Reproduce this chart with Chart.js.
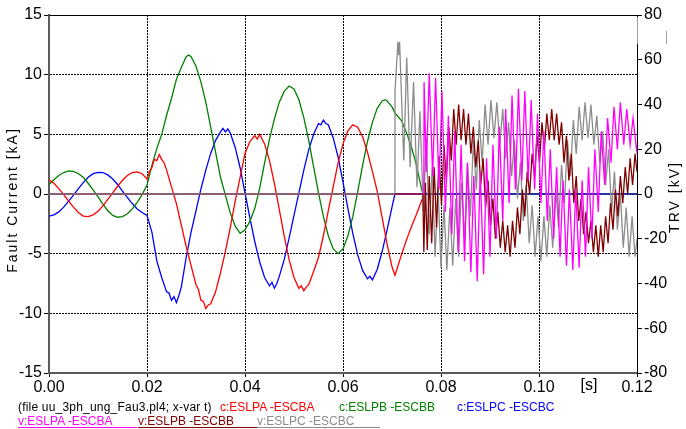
<!DOCTYPE html>
<html><head><meta charset="utf-8">
<script src="https://cdn.jsdelivr.net/npm/chart.js@4/dist/chart.umd.min.js"></script>
<style>
html,body{margin:0;padding:0;background:#fff;}
#wrap{position:relative;width:686px;height:429px;overflow:hidden;}
canvas{position:absolute;left:0;top:0;}
.lg{position:absolute;font:12px "Liberation Sans",Arial,sans-serif;white-space:pre;line-height:14px;height:13px;}
</style></head><body>
<div id="wrap"><canvas id="c" width="686" height="429"></canvas>
<div class="lg" style="left:18px;top:400px;color:#000;letter-spacing:0.2px">(file uu_3ph_ung_Fau3.pl4; x-var t)</div>
<div class="lg" style="left:220px;top:400px;color:#ff0000">c:ESLPA -ESCBA</div>
<div class="lg" style="left:339px;top:400px;color:#008000">c:ESLPB -ESCBB</div>
<div class="lg" style="left:457px;top:400px;color:#0000ff">c:ESLPC -ESCBC</div>
<div class="lg" style="left:18px;top:414px;width:119px;color:#ff00ff;border-bottom:1px solid #ff00ff">v:ESLPA -ESCBA</div>
<div class="lg" style="left:138px;top:414px;width:119px;color:#800000;border-bottom:1px solid #800000">v:ESLPB -ESCBB</div>
<div class="lg" style="left:257px;top:414px;width:123px;color:#8c8c8c;border-bottom:1px solid #8c8c8c">v:ESLPC -ESCBC</div>
</div>
<script>
// ---- data (time in s, current in kA, voltage in kV) ----
const xTickLabels = ["0.00","0.02","0.04","0.06","0.08","0.10","0.12"];

const tCA = [0,0.001,0.002,0.003,0.004,0.005,0.006,0.007,0.008,0.009,0.010,0.011,0.012,0.013,0.014,0.015,0.016,0.017,0.018,0.019,0.020,0.0205,0.021,0.0215,0.022,0.0225,0.023,0.0235,0.024,0.025,0.026,0.027,0.028,0.029,0.030,0.0305,0.031,0.0315,0.032,0.0325,0.033,0.034,0.035,0.036,0.037,0.038,0.039,0.040,0.041,0.042,0.0425,0.043,0.044,0.045,0.046,0.047,0.048,0.049,0.050,0.051,0.0515,0.052,0.0525,0.053,0.054,0.055,0.056,0.057,0.058,0.059,0.060,0.061,0.062,0.063,0.064,0.065,0.066,0.067,0.068,0.069,0.070,0.0706,0.071,0.072,0.073,0.074,0.075,0.076,0.0766,0.12];
const iCA = [1.2,0.9,0.45,-0.05,-0.6,-1.1,-1.55,-1.85,-1.9,-1.75,-1.45,-1.0,-0.45,0.1,0.65,1.15,1.55,1.8,1.85,1.7,1.25,1.9,2.2,2.9,2.8,3.3,2.9,2.6,2.0,0.6,-0.8,-2.6,-4.4,-6.0,-7.6,-8.0,-8.9,-9.0,-9.6,-9.3,-9.2,-8.2,-6.6,-4.8,-2.8,-0.6,1.4,3.4,4.4,4.9,4.6,5.0,4.2,2.8,0.9,-1.3,-3.5,-5.5,-7.0,-7.9,-7.7,-8.1,-7.8,-7.6,-6.5,-5.3,-3.5,-1.4,0.6,2.6,4.2,5.3,5.8,5.6,4.8,3.5,1.9,0.2,-2.0,-4.2,-6.1,-6.8,-6.3,-5.0,-3.8,-2.7,-1.7,-0.6,0,0];

const tCB = [0,0.001,0.002,0.003,0.004,0.005,0.006,0.007,0.008,0.009,0.010,0.011,0.012,0.013,0.014,0.015,0.016,0.017,0.018,0.019,0.020,0.021,0.022,0.023,0.024,0.025,0.026,0.027,0.028,0.0285,0.029,0.030,0.031,0.032,0.033,0.034,0.035,0.036,0.037,0.038,0.039,0.040,0.041,0.042,0.043,0.044,0.045,0.046,0.047,0.048,0.049,0.050,0.051,0.052,0.053,0.054,0.055,0.056,0.057,0.058,0.059,0.060,0.061,0.062,0.063,0.064,0.065,0.066,0.067,0.068,0.0686,0.069,0.070,0.0706,0.071,0.072,0.073,0.074,0.075,0.076,0.0763,0.12];
const iCB = [0.8,1.2,1.55,1.8,1.93,1.9,1.7,1.4,0.9,0.35,-0.25,-0.85,-1.4,-1.8,-1.95,-1.9,-1.65,-1.25,-0.7,-0.05,0.75,2.4,3.8,5.0,6.6,8.0,9.6,10.6,11.5,11.65,11.5,10.7,9.4,7.7,5.6,3.5,1.4,-0.1,-1.6,-2.7,-3.3,-3.0,-2.3,-1.2,0.5,2.6,4.6,6.3,7.7,8.6,9.05,8.8,7.9,6.4,4.5,2.3,0.1,-1.9,-3.5,-4.6,-5.0,-4.6,-3.5,-1.9,0.2,2.4,4.4,6.0,7.2,7.8,7.9,7.8,7.3,6.8,6.6,6.1,5.1,3.9,2.4,0.5,0,0];

const tCC = [0,0.001,0.002,0.003,0.004,0.005,0.006,0.007,0.008,0.009,0.010,0.011,0.012,0.013,0.014,0.015,0.016,0.017,0.018,0.019,0.020,0.021,0.022,0.023,0.024,0.0245,0.025,0.0255,0.026,0.0265,0.027,0.028,0.029,0.030,0.031,0.032,0.033,0.034,0.035,0.0355,0.036,0.0365,0.037,0.038,0.039,0.040,0.041,0.042,0.043,0.044,0.045,0.0455,0.046,0.0465,0.047,0.048,0.049,0.050,0.051,0.052,0.053,0.054,0.055,0.0555,0.056,0.0565,0.057,0.058,0.059,0.060,0.061,0.062,0.063,0.064,0.065,0.0655,0.066,0.067,0.068,0.069,0.070,0.0706,0.12];
const iCC = [-1.85,-1.75,-1.5,-1.1,-0.6,-0.1,0.45,0.95,1.4,1.7,1.82,1.8,1.6,1.25,0.8,0.25,-0.3,-0.8,-1.25,-1.55,-1.8,-3.2,-5.6,-7.0,-8.2,-8.3,-8.9,-8.6,-9.1,-8.5,-7.8,-5.3,-3.2,-1.4,0.4,2.0,3.4,4.5,5.2,5.5,5.2,5.45,5.1,3.9,2.2,0.1,-2.0,-4.0,-5.7,-7.0,-7.7,-7.4,-7.9,-7.5,-6.9,-5.5,-3.7,-1.8,0.1,2.0,3.7,5.0,5.9,5.8,6.2,5.9,5.8,4.7,3.1,1.0,-1.2,-3.3,-5.1,-6.4,-7.1,-6.9,-7.2,-6.3,-4.8,-3.0,-1.1,0,0];

const tVA = [0,0.0706,0.0765,0.07655,0.0770,0.0776,0.0783,0.0789,0.0796,0.0802,0.0809,0.0815,0.0822,0.0828,0.0835,0.0841,0.0848,0.0854,0.0861,0.0867,0.0874,0.0880,0.0887,0.0893,0.0900,0.0906,0.0913,0.0919,0.0926,0.0932,0.0939,0.0945,0.0952,0.0958,0.0965,0.0971,0.0978,0.0984,0.0991,0.0997,0.1004,0.1010,0.1017,0.1023,0.1030,0.1036,0.1043,0.1049,0.1056,0.1062,0.1069,0.1075,0.1082,0.1088,0.1095,0.1101,0.1108,0.1114,0.1121,0.1127,0.1134,0.1140,0.1147,0.1153,0.1160,0.1166,0.1173,0.1179,0.1186,0.1192,0.1199,0.1200];
const uVA = [0,0,0,50,10,54,8,52,2,46,-8,35,-18,28,-26,22,-30,14,-35,8,-39,10,-36,16,-28,22,-20,30,-12,38,-4,44,2,47,6,46,6,42,2,36,-4,28,-12,20,-20,12,-28,6,-32,2,-34,2,-33,6,-28,12,-20,20,-8,28,4,34,14,39,20,41,22,38,22,34,20,22];

const tVB = [0,0.0706,0.0763,0.0765,0.0768,0.0772,0.0776,0.0781,0.0786,0.0791,0.0796,0.0801,0.0806,0.0811,0.0816,0.0821,0.0826,0.0831,0.0836,0.0841,0.0846,0.0851,0.0856,0.0861,0.0866,0.0871,0.0876,0.0881,0.0886,0.0891,0.0896,0.0901,0.0906,0.0911,0.0916,0.0921,0.0926,0.0931,0.0936,0.0941,0.0946,0.0951,0.0956,0.0961,0.0966,0.0971,0.0976,0.0981,0.0986,0.0991,0.0996,0.1001,0.1006,0.1011,0.1016,0.1021,0.1026,0.1031,0.1036,0.1041,0.1046,0.1051,0.1056,0.1061,0.1066,0.1071,0.1076,0.1081,0.1086,0.1091,0.1096,0.1101,0.1106,0.1111,0.1116,0.1121,0.1126,0.1131,0.1136,0.1141,0.1146,0.1151,0.1156,0.1161,0.1166,0.1171,0.1176,0.1181,0.1186,0.1191,0.1196,0.1200];
const uVB = [0,0,0,-26,5,-25,8,-22,12,-15,17,-5,22,6,30,15,38,22,40,24,38,22,36,18,30,12,24,4,16,-6,6,-14,-2,-20,-8,-24,-12,-26,-14,-28,-12,-24,-6,-18,2,-10,10,0,18,8,26,14,32,20,36,24,38,24,36,22,32,14,26,6,18,-4,8,-12,-2,-18,-8,-22,-12,-26,-14,-28,-14,-26,-10,-22,-4,-16,2,-10,8,-4,12,0,16,4,18,10];

const tVC = [0,0.0706,0.07062,0.0712,0.0714,0.07155,0.0724,0.0730,0.0737,0.0744,0.0751,0.0757,0.0764,0.0770,0.0776,0.0782,0.0788,0.0794,0.0800,0.0806,0.0812,0.0818,0.0824,0.0830,0.0836,0.0842,0.0848,0.0854,0.0860,0.0866,0.0872,0.0878,0.0884,0.0890,0.0896,0.0902,0.0908,0.0914,0.0920,0.0926,0.0932,0.0938,0.0944,0.0950,0.0956,0.0962,0.0968,0.0974,0.0980,0.0986,0.0992,0.0998,0.1004,0.1010,0.1016,0.1022,0.1028,0.1034,0.1040,0.1046,0.1052,0.1058,0.1064,0.1070,0.1076,0.1082,0.1088,0.1094,0.1100,0.1106,0.1112,0.1118,0.1124,0.1130,0.1136,0.1142,0.1148,0.1154,0.1160,0.1166,0.1172,0.1178,0.1184,0.1190,0.1196,0.1200];
const uVC = [0,0,46,68,62,68,15,61,12,50,3,37,-8,25,-18,12,-28,3,-33,-5,-34,-6,-32,-2,-28,5,-20,14,-10,24,2,33,14,40,22,42,25,41,22,38,16,32,8,24,-2,14,-12,4,-22,-5,-28,-10,-30,-10,-28,-5,-24,3,-15,13,-4,24,8,33,18,39,24,41,25,40,22,35,14,28,4,20,-8,10,-16,0,-24,-6,-28,-10,-28,-20];

// ---- build ----
const FONT = '"Liberation Sans", Arial, sans-serif';
const toXY = (t, v) => t.map((x, i) => ({x, y: v[i]}));
const isZeroSeg = c => c.p0.parsed.y === 0 && c.p1.parsed.y === 0;
const voltSeg = {
  borderColor: c => isZeroSeg(c) ? (c.p1.parsed.x <= 0.0707 ? '#8c5e72' : '#8a1c5e') : undefined,
  borderWidth: c => isZeroSeg(c) ? 2 : undefined
};
const curSeg = {
  borderColor: c => isZeroSeg(c) && c.p0.parsed.x > 0.07 ? '#2232a0' : undefined,
  borderWidth: c => isZeroSeg(c) && c.p0.parsed.x > 0.07 ? 2 : undefined
};
const ds = (label, t, v, color, axis, seg, order) => ({
  label, data: toXY(t, v), borderColor: color, backgroundColor: color, yAxisID: axis,
  showLine: true, pointRadius: 0, borderWidth: 1.3, tension: 0, segment: seg, order
});

const framePlugin = {
  id: 'frame',
  afterDraw(chart) {
    const {ctx, chartArea: a} = chart;
    ctx.save();
    ctx.strokeStyle = '#000'; ctx.lineWidth = 1;
    ctx.beginPath(); ctx.moveTo(a.left, a.top + 0.5); ctx.lineTo(a.right, a.top + 0.5); ctx.stroke();
    ctx.strokeStyle = '#a0a0a0';
    ctx.beginPath(); ctx.moveTo(a.right + 0.5, a.top + 2); ctx.lineTo(a.right + 0.5, a.top + 29); ctx.stroke();
    ctx.beginPath(); ctx.moveTo(666.5, a.top + 16); ctx.lineTo(666.5, a.top + 29); ctx.stroke();
    ctx.fillStyle = '#000';
    ctx.font = '14px ' + FONT;
    try { ctx.letterSpacing = '2px'; } catch (e) {}
    ctx.textAlign = 'center'; ctx.textBaseline = 'middle';
    ctx.save(); ctx.translate(13, 200); ctx.rotate(-Math.PI / 2); ctx.fillText('Fault Current [kA]', 0, 0); ctx.restore();
    ctx.save(); ctx.translate(675, 197); ctx.rotate(-Math.PI / 2); ctx.fillText('TRV [kV]', 0, 0); ctx.restore();
    try { ctx.letterSpacing = '0px'; } catch (e) {}
    ctx.font = '16px ' + FONT; ctx.textBaseline = 'top';
    ctx.fillText('[s]', 589, 378);
    ctx.restore();
  }
};

new Chart(document.getElementById('c'), {
  type: 'scatter',
  data: {
    datasets: [
      ds('v:ESLPA -ESCBA', tVA, uVA, '#ff00ff', 'y2', voltSeg, 1),
      ds('v:ESLPB -ESCBB', tVB, uVB, '#800000', 'y2', voltSeg, 2),
      ds('v:ESLPC -ESCBC', tVC, uVC, '#8c8c8c', 'y2', voltSeg, 3),
      ds('c:ESLPA -ESCBA', tCA, iCA, '#ff0000', 'y', curSeg, 4),
      ds('c:ESLPB -ESCBB', tCB, iCB, '#008000', 'y', curSeg, 5),
      ds('c:ESLPC -ESCBC', tCC, iCC, '#0000ff', 'y', curSeg, 6)
    ]
  },
  options: {
    responsive: false, animation: false, devicePixelRatio: 1,
    layout: {padding: {top: 15, left: 0, right: 0, bottom: 0}},
    plugins: {legend: {display: false}, tooltip: {enabled: false}},
    scales: {
      x: {
        type: 'linear', min: 0, max: 0.12,
        afterFit: s => { s.height = 56; },
        afterBuildTicks: s => { s.ticks = xTickLabels.map(l => ({value: parseFloat(l)})); },
        ticks: {callback: (v, i) => xTickLabels[i], font: {size: 16, family: FONT}, color: '#000', padding: 1, maxRotation: 0, autoSkip: false},
        grid: {color: c => (c.tick && (c.tick.value < 0.001 || c.tick.value > 0.119)) ? 'rgba(0,0,0,0)' : '#000',
               tickColor: '#000', tickLength: 4, lineWidth: 1},
        border: {color: '#5a5a5a', width: 2, dash: [2, 1]}
      },
      y: {
        position: 'left', min: -15, max: 15,
        afterFit: s => { s.width = 49; },
        ticks: {stepSize: 5, font: {size: 16, family: FONT}, color: '#000', padding: 2},
        grid: {color: c => (c.tick && (Math.abs(c.tick.value) === 15 || c.tick.value === 0)) ? 'rgba(0,0,0,0)' : '#000',
               tickColor: '#000', tickLength: 5, lineWidth: 1},
        border: {color: '#5a5a5a', width: 2, dash: [2, 1]}
      },
      y2: {
        position: 'right', min: -80, max: 80,
        afterFit: s => { s.width = 49; },
        ticks: {stepSize: 20, font: {size: 16, family: FONT}, color: '#000', padding: 2},
        grid: {drawOnChartArea: false, tickColor: '#000', tickLength: 5},
        border: {color: '#000', width: 1}
      }
    }
  },
  plugins: [framePlugin]
});
</script>
</body></html>
